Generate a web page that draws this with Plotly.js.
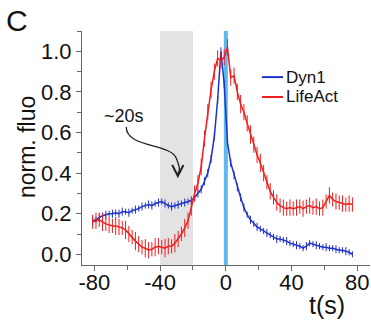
<!DOCTYPE html>
<html>
<head>
<meta charset="utf-8">
<script src="https://cdn.plot.ly/plotly-3.0.1.min.js"></script>
<style>html,body{margin:0;padding:0;background:#fff;}#chart{width:371px;height:321px;}</style>
</head>
<body>
<div id="chart"></div>
<script>
// time (s)
var time = [-81,-79,-77,-75,-73,-71,-69,-67,-65,-63,-61,-59,-57,-55,-53,-51,-49,-47,-45,-43,
            -41,-39,-37,-35,-33,-31,-29,-27,-25,-23,-21,-19,-17,-15,-13,-11,-9,-7,-5,-3,
            -1,1,3,5,7,9,11,13,15,17,19,21,23,25,27,29,31,33,35,37,
            39,41,43,45,47,49,51,53,55,57,59,61,63,65,67,69,71,73,75,77];
var dyn1 = [0.165,0.17,0.18,0.19,0.195,0.20,0.20,0.205,0.20,0.21,0.21,0.205,0.215,0.22,0.225,0.235,0.24,0.245,0.24,0.25,
            0.255,0.26,0.25,0.24,0.235,0.24,0.245,0.25,0.255,0.26,0.265,0.28,0.30,0.32,0.36,0.40,0.47,0.58,0.76,1.00,
            0.84,0.55,0.45,0.39,0.33,0.28,0.23,0.195,0.17,0.15,0.135,0.125,0.115,0.105,0.095,0.085,0.075,0.075,0.07,0.065,
            0.055,0.05,0.045,0.04,0.03,0.04,0.055,0.05,0.045,0.04,0.035,0.035,0.03,0.03,0.025,0.02,0.02,0.015,0.01,0.00];
var dyn1Err = [0.02,0.015,0.02,0.015,0.02,0.015,0.02,0.015,0.02,0.02,0.015,0.02,0.015,0.02,0.015,0.02,0.015,0.02,0.02,0.015,
               0.02,0.015,0.02,0.015,0.02,0.015,0.02,0.015,0.02,0.015,0.02,0.02,0.02,0.02,0.02,0.02,0.02,0.02,0.02,0.02,
               0.02,0.02,0.02,0.02,0.02,0.02,0.02,0.015,0.02,0.015,0.02,0.015,0.015,0.02,0.015,0.015,0.02,0.015,0.015,0.02,
               0.015,0.015,0.02,0.015,0.015,0.02,0.015,0.015,0.02,0.015,0.015,0.02,0.015,0.015,0.02,0.015,0.015,0.02,0.015,0.015];
var lifeact = [0.16,0.165,0.17,0.16,0.15,0.145,0.14,0.14,0.135,0.13,0.12,0.10,0.085,0.065,0.05,0.035,0.03,0.02,0.025,0.035,
               0.04,0.035,0.03,0.04,0.04,0.055,0.075,0.10,0.13,0.165,0.23,0.30,0.35,0.43,0.57,0.70,0.81,0.90,0.965,0.955,
               0.97,1.02,0.87,0.88,0.80,0.74,0.70,0.645,0.59,0.54,0.49,0.45,0.40,0.355,0.31,0.28,0.255,0.24,0.23,0.225,
               0.23,0.225,0.23,0.235,0.225,0.235,0.24,0.23,0.235,0.225,0.23,0.26,0.29,0.27,0.26,0.255,0.25,0.245,0.25,0.245];
var lifeactErr = [0.035,0.04,0.035,0.045,0.035,0.04,0.035,0.045,0.04,0.035,0.045,0.04,0.035,0.045,0.04,0.035,0.045,0.04,0.035,0.045,
                  0.04,0.035,0.045,0.04,0.035,0.045,0.04,0.035,0.045,0.04,0.04,0.04,0.04,0.04,0.04,0.04,0.04,0.04,0.04,0.04,
                  0.04,0.04,0.04,0.04,0.04,0.045,0.04,0.04,0.045,0.04,0.04,0.045,0.04,0.035,0.04,0.035,0.04,0.035,0.04,0.035,
                  0.04,0.035,0.04,0.035,0.04,0.035,0.04,0.035,0.04,0.035,0.04,0.035,0.04,0.035,0.04,0.035,0.04,0.035,0.04,0.035];
var seriesNames = ["Dyn1", "LifeAct"];
var xTicks = [-80, -40, 0, 40, 80];
var yTicks = [0.0, 0.2, 0.4, 0.6, 0.8, 1.0];
var yTickText = ["0.0", "0.2", "0.4", "0.6", "0.8", "1.0"];

var BLUE = "rgb(30,50,200)";
var RED = "rgb(240,30,30)";
var COLORS = [BLUE, RED];
var FONT = "Liberation Sans, Arial, Helvetica, sans-serif";

var traces = [
  {x: time, y: dyn1, name: seriesNames[0], type: "scatter", mode: "lines", showlegend: false,
   line: {color: BLUE, width: 1.5},
   error_y: {type: "data", array: dyn1Err, visible: true, color: BLUE, thickness: 1, width: 0}},
  {x: time, y: lifeact, name: seriesNames[1], type: "scatter", mode: "lines", showlegend: false,
   line: {color: RED, width: 1.5},
   error_y: {type: "data", array: lifeactErr, visible: true, color: RED, thickness: 1, width: 0}}
];

// manual legend (paper coordinates)
var legendY = [0.803, 0.718];
var legendShapes = seriesNames.map(function (n, i) {
  return {type: "line", xref: "paper", yref: "paper", x0: 0.625, x1: 0.698, y0: legendY[i], y1: legendY[i],
          line: {color: COLORS[i], width: 2}};
});
var legendText = seriesNames.map(function (n, i) {
  return {text: n, xref: "paper", yref: "paper", x: 0.703, y: legendY[i], xanchor: "left", yanchor: "middle",
          showarrow: false, font: {size: 17, family: FONT, color: "#111"}};
});

var layout = {
  width: 371, height: 321,
  margin: {l: 82, r: 1, t: 31, b: 56},
  paper_bgcolor: "#fff", plot_bgcolor: "#fff",
  font: {family: FONT, color: "#111"},
  showlegend: false,
  xaxis: {range: [-87.5, 87.7], tickvals: xTicks, ticktext: xTicks.map(String), automargin: false,
          showline: true, linecolor: "#666", linewidth: 1, mirror: false,
          ticks: "outside", ticklen: 5, tickcolor: "#666", ticklabelstandoff: -7,
          minor: {dtick: 20, tick0: 0, ticks: "outside", ticklen: 4, tickcolor: "#666"},
          showgrid: false, zeroline: false, tickfont: {size: 22, family: FONT, color: "#111"}},
  yaxis: {range: [-0.0527, 1.1], tickvals: yTicks, ticktext: yTickText, automargin: false,
          showline: true, linecolor: "#666", linewidth: 1,
          ticks: "outside", ticklen: 5, tickcolor: "#666",
          minor: {dtick: 0.1, tick0: 0, ticks: "outside", ticklen: 4, tickcolor: "#666"},
          showgrid: false, zeroline: false, tickfont: {size: 22, family: FONT, color: "#111"}},
  shapes: [
    {type: "rect", xref: "x", yref: "paper", x0: -40, x1: -20, y0: 0, y1: 1,
     fillcolor: "rgb(227,227,227)", line: {width: 0}, layer: "below"},
    {type: "rect", xref: "x", yref: "paper", x0: -1.2, x1: 1.2, y0: 0, y1: 1,
     fillcolor: "rgb(95,185,235)", line: {width: 0}, layer: "below"},
    {type: "path", xref: "x", yref: "y",
     path: "M -60.6 0.627 C -60.6 0.524, -33.9 0.548, -30.2 0.474 S -29.2 0.414, -29.2 0.392",
     line: {color: "#222", width: 1.3}},
    {type: "path", xref: "x", yref: "y",
     path: "M -32.6 0.44 L -29.2 0.386 L -25.8 0.44",
     line: {color: "#222", width: 2}}
  ].concat(legendShapes),
  annotations: [
    {text: "C", xref: "paper", yref: "paper", x: -0.227, y: 1.043, xanchor: "center", yanchor: "middle",
     showarrow: false, font: {size: 30, family: FONT, color: "#111"}},
    {text: "norm. fluo", xref: "paper", yref: "paper", x: -0.191, y: 0.504, xanchor: "center", yanchor: "middle",
     textangle: -90, showarrow: false, font: {size: 23, family: FONT, color: "#111"}},
    {text: "~20s", xref: "x", yref: "y", x: -61.8, y: 0.681, xanchor: "center", yanchor: "middle",
     showarrow: false, font: {size: 18, family: FONT, color: "#111"}},
    {text: "t(s)", xref: "paper", yref: "paper", x: 0.851, y: -0.171, xanchor: "center", yanchor: "middle",
     showarrow: false, font: {size: 25, family: FONT, color: "#111"}}
  ].concat(legendText)
};

Plotly.newPlot("chart", traces, layout, {displayModeBar: false, staticPlot: true});
</script>
</body>
</html>
